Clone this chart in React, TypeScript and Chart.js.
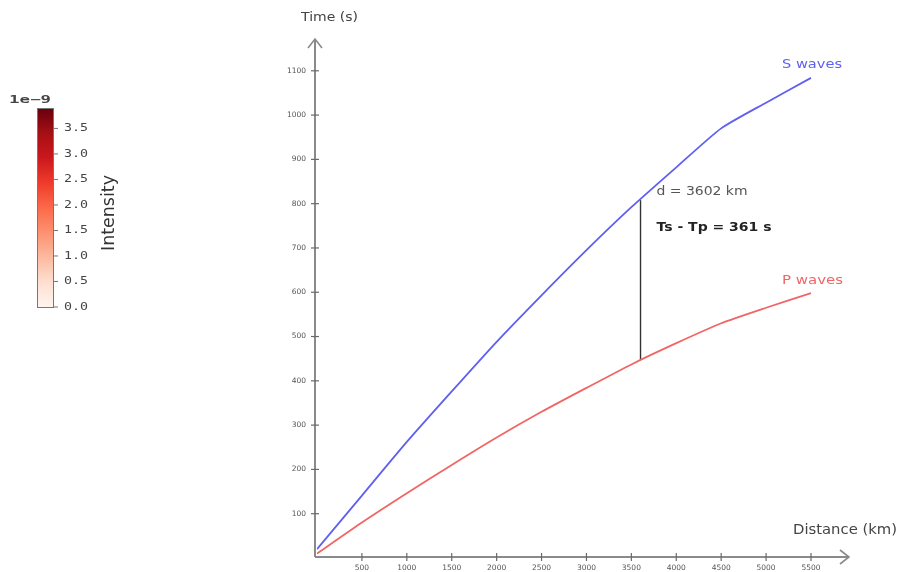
import React, { useEffect, useRef } from "react";
import { Chart, registerables } from "chart.js";

Chart.register(...registerables);

// ---- data ----
const distanceKm = [0, 500, 1000, 1500, 2000, 2500, 3000, 3500, 4000, 4500, 5000, 5500];
const sWaveTimes = [20, 141, 262, 376, 488, 593, 695, 792, 882, 970, 1028, 1084];
const pWaveTimes = [10, 80, 146, 210, 272, 330, 384, 437, 485, 530, 565, 598];
const markerDistance = 3602;
const markerTimes = [447, 808];
const markerLabel = "d = 3602 km";
const markerDiffLabel = "Ts - Tp = 361 s";
const xTickValues = [500, 1000, 1500, 2000, 2500, 3000, 3500, 4000, 4500, 5000, 5500];
const yTickValues = [100, 200, 300, 400, 500, 600, 700, 800, 900, 1000, 1100];
const colorbarTicks = [0, 0.5, 1.0, 1.5, 2.0, 2.5, 3.0, 3.5];
const colorbarMax = 3.9;
const colorbarExponent = "1e\u22129";
const colorbarTitle = "Intensity";
const xTitle = "Distance (km)";
const yTitle = "Time (s)";
const sLabel = "S waves";
const pLabel = "P waves";

const S_COLOR = "#5f5ff0";
const P_COLOR = "#f06666";
const AXIS_COLOR = "#8a8a8a";
const FONT = "'DejaVu Sans', Verdana, sans-serif";

function stretchedText(ctx: CanvasRenderingContext2D, text: string, x: number, y: number, targetW: number) {
  const w = ctx.measureText(text).width;
  ctx.save();
  ctx.translate(x, y);
  ctx.scale(targetW / w, 1);
  ctx.fillText(text, 0, 0);
  ctx.restore();
}

const overlayPlugin = {
  id: "overlay",
  beforeDatasetsDraw(chart: any) {
    const ctx = chart.ctx as CanvasRenderingContext2D;
    const xs = chart.scales.x;
    const ys = chart.scales.y;
    const ax = xs.getPixelForValue(0) - 2;
    const ay = ys.getPixelForValue(0) - 1;
    const top = chart.chartArea.top;
    const right = chart.chartArea.right;
    ctx.save();
    ctx.strokeStyle = AXIS_COLOR;
    ctx.lineWidth = 2;
    ctx.beginPath();
    ctx.moveTo(ax, ay);
    ctx.lineTo(ax, top - 2);
    ctx.moveTo(ax, ay);
    ctx.lineTo(right, ay);
    ctx.stroke();
    // arrows
    ctx.lineWidth = 1.6;
    ctx.beginPath();
    ctx.moveTo(ax - 7, top + 6);
    ctx.lineTo(ax, top - 3);
    ctx.lineTo(ax + 7, top + 6);
    ctx.moveTo(right - 8, ay - 7);
    ctx.lineTo(right + 1, ay);
    ctx.lineTo(right - 8, ay + 7);
    ctx.stroke();
    // ticks
    ctx.strokeStyle = "#6a6a6a";
    ctx.lineWidth = 1.2;
    ctx.fillStyle = "#555";
    ctx.font = `7.5px ${FONT}`;
    ctx.textAlign = "right";
    ctx.textBaseline = "middle";
    for (const v of yTickValues) {
      const py = ys.getPixelForValue(v);
      ctx.beginPath();
      ctx.moveTo(ax - 4, py);
      ctx.lineTo(ax + 4, py);
      ctx.stroke();
      ctx.fillText(String(v), ax - 9, py);
    }
    ctx.textAlign = "center";
    ctx.textBaseline = "top";
    for (const v of xTickValues) {
      const px = xs.getPixelForValue(v);
      ctx.beginPath();
      ctx.moveTo(px, ay - 4);
      ctx.lineTo(px, ay + 4);
      ctx.stroke();
      ctx.fillText(String(v), px, ay + 7);
    }
    ctx.restore();
  },
  afterDraw(chart: any) {
    const ctx = chart.ctx as CanvasRenderingContext2D;
    const xs = chart.scales.x;
    const ys = chart.scales.y;
    const ax = xs.getPixelForValue(0) - 2;
    const ay = ys.getPixelForValue(0) - 1;
    ctx.save();
    // axis titles
    ctx.fillStyle = "#444";
    ctx.font = `13px ${FONT}`;
    ctx.textAlign = "left";
    ctx.textBaseline = "middle";
    stretchedText(ctx, yTitle, ax - 14, 18, 57);
    ctx.font = `14px ${FONT}`;
    stretchedText(ctx, xTitle, 793, ay - 27, 104);
    // series labels
    const lastX = xs.getPixelForValue(distanceKm[distanceKm.length - 1]);
    ctx.font = `13px ${FONT}`;
    ctx.fillStyle = S_COLOR;
    stretchedText(ctx, sLabel, lastX - 29, ys.getPixelForValue(sWaveTimes[sWaveTimes.length - 1]) - 13, 60);
    ctx.fillStyle = P_COLOR;
    stretchedText(ctx, pLabel, lastX - 29, ys.getPixelForValue(pWaveTimes[pWaveTimes.length - 1]) - 13, 61);
    // marker texts
    const mx = xs.getPixelForValue(markerDistance);
    const myTop = ys.getPixelForValue(markerTimes[1]);
    ctx.fillStyle = "#555";
    ctx.font = `13px ${FONT}`;
    stretchedText(ctx, markerLabel, mx + 16, myTop - 8, 91);
    ctx.fillStyle = "#222";
    ctx.font = `bold 13px ${FONT}`;
    stretchedText(ctx, markerDiffLabel, mx + 16, myTop + 28, 115);

    // colorbar
    const cbL = 37, cbR = 54, cbT = 108, cbB = 308;
    const valToY = (v: number) => cbB - 1 - (v / colorbarMax) * (cbB - 1 - cbT);
    const g = ctx.createLinearGradient(0, cbB, 0, cbT);
    const stops = ["#fff5f0", "#fee0d2", "#fcbba1", "#fc9272", "#fb6a4a", "#ef3b2c", "#cb181d", "#a50f15", "#67000d"];
    stops.forEach((c, i) => g.addColorStop(i / (stops.length - 1), c));
    ctx.fillStyle = g;
    ctx.fillRect(cbL, cbT, cbR - cbL, cbB - cbT);
    ctx.strokeStyle = "#777";
    ctx.lineWidth = 1;
    ctx.strokeRect(cbL + 0.5, cbT + 0.5, cbR - cbL - 1, cbB - cbT - 1);
    ctx.fillStyle = "#444";
    ctx.font = `11px 'DejaVu Sans Mono', monospace`;
    ctx.textAlign = "left";
    ctx.textBaseline = "middle";
    for (const v of colorbarTicks) {
      const py = valToY(v);
      ctx.beginPath();
      ctx.moveTo(cbR, py);
      ctx.lineTo(cbR + 4, py);
      ctx.stroke();
      stretchedText(ctx, v.toFixed(1), cbR + 10, py, 24);
    }
    ctx.font = `bold 10px 'DejaVu Sans Mono', monospace`;
    stretchedText(ctx, colorbarExponent, 9, cbT - 8, 42);
    ctx.save();
    ctx.translate(110, 213);
    ctx.rotate(-Math.PI / 2);
    ctx.textAlign = "left";
    ctx.font = `17px ${FONT}`;
    ctx.fillStyle = "#333";
    stretchedText(ctx, colorbarTitle, -38, 0, 76);
    ctx.restore();
    ctx.restore();
  },
};

export default function App() {
  const ref = useRef<HTMLCanvasElement | null>(null);
  useEffect(() => {
    if (!ref.current) return;
    const chart = new Chart(ref.current, {
      type: "scatter",
      data: {
        datasets: [
          {
            label: sLabel,
            data: distanceKm.map((d, i) => ({ x: d, y: sWaveTimes[i] })),
            showLine: true,
            borderColor: S_COLOR,
            borderWidth: 1.8,
            pointRadius: 0,
            tension: 0.2,
          },
          {
            label: pLabel,
            data: distanceKm.map((d, i) => ({ x: d, y: pWaveTimes[i] })),
            showLine: true,
            borderColor: P_COLOR,
            borderWidth: 1.8,
            pointRadius: 0,
            tension: 0.2,
          },
          {
            label: "marker",
            data: markerTimes.map((t) => ({ x: markerDistance, y: t })),
            showLine: true,
            borderColor: "#333",
            borderWidth: 1.4,
            pointRadius: 0,
          },
        ],
      },
      options: {
        responsive: false,
        maintainAspectRatio: false,
        animation: false,
        devicePixelRatio: 1,
        layout: { padding: { left: 317, right: 51, top: 42, bottom: 14 } },
        plugins: { legend: { display: false }, tooltip: { enabled: false } },
        scales: {
          x: { type: "linear", min: 0, max: 5912, display: false },
          y: { type: "linear", min: 0, max: 1165, display: false },
        },
      },
      plugins: [overlayPlugin],
    });
    return () => chart.destroy();
  }, []);
  return (
    <div style={{ position: "fixed", left: 0, top: 0, width: 899, height: 572, background: "#fff" }}>
      <canvas ref={ref} width={899} height={572} style={{ display: "block", width: 899, height: 572 }} />
    </div>
  );
}
